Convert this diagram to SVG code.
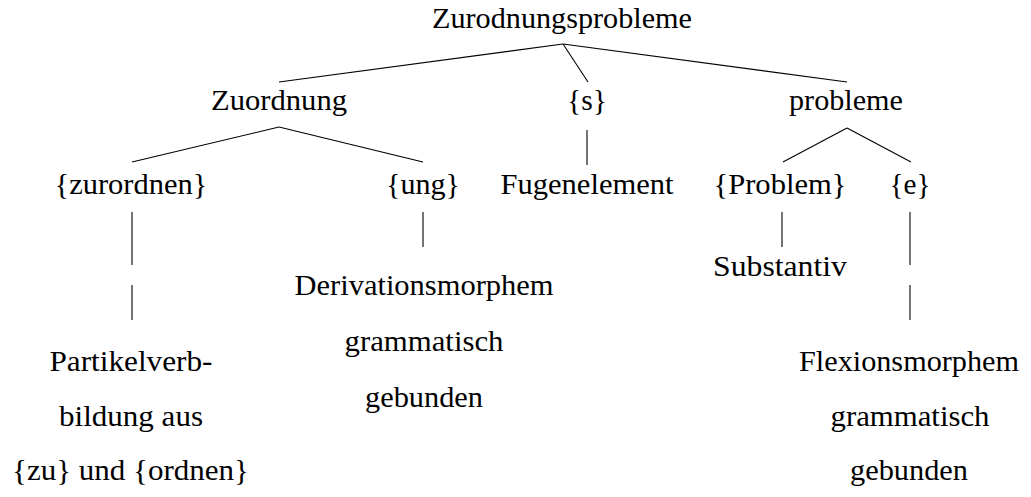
<svg xmlns="http://www.w3.org/2000/svg" width="1031" height="497" viewBox="0 0 1031 497">
  <style>
    .lbl { font-family: Liberation Serif, DejaVu Serif, serif; font-size: 28.5px; fill: #000; text-anchor: middle; }
    .edge { stroke: #000; stroke-width: 1.1; fill: none; }
  </style>
  <rect width="1031" height="497" fill="#fff"/>

  <!-- tree branches -->
  <g id="connectors">
    <line class="edge" x1="563" y1="44" x2="279" y2="82"/>
    <line class="edge" x1="563" y1="44" x2="588" y2="82"/>
    <line class="edge" x1="563" y1="44" x2="847" y2="82"/>
    <line class="edge" x1="279" y1="127" x2="132" y2="162"/>
    <line class="edge" x1="279" y1="127" x2="423" y2="162"/>
    <line class="edge" x1="587" y1="130" x2="587" y2="165"/>
    <line class="edge" x1="847" y1="128" x2="783" y2="162"/>
    <line class="edge" x1="847" y1="128" x2="911" y2="162"/>
    <line class="edge" x1="132" y1="212" x2="132" y2="265"/>
    <line class="edge" x1="132" y1="285" x2="132" y2="320"/>
    <line class="edge" x1="423" y1="212" x2="423" y2="247"/>
    <line class="edge" x1="782" y1="212" x2="782" y2="247"/>
    <line class="edge" x1="910" y1="212" x2="910" y2="265"/>
    <line class="edge" x1="910" y1="285" x2="910" y2="320"/>
  </g>

  <g class="lbl" font-family="Liberation Serif, DejaVu Serif, serif">
    <g id="n-root"><text x="562" y="28" textLength="260" lengthAdjust="spacingAndGlyphs">Zurodnungsprobleme</text></g>

    <g id="n-zuordnung"><text x="279" y="110" textLength="136" lengthAdjust="spacingAndGlyphs">Zuordnung</text></g>
    <g id="n-s"><text x="587" y="110" textLength="40" lengthAdjust="spacingAndGlyphs">{s}</text></g>
    <g id="n-probleme"><text x="846" y="110" textLength="114" lengthAdjust="spacingAndGlyphs">probleme</text></g>

    <g id="n-zurordnen"><text x="131" y="194" textLength="153" lengthAdjust="spacingAndGlyphs">{zurordnen}</text></g>
    <g id="n-ung"><text x="423" y="194" textLength="74" lengthAdjust="spacingAndGlyphs">{ung}</text></g>
    <g id="n-fugenelement"><text x="587" y="194" textLength="173" lengthAdjust="spacingAndGlyphs">Fugenelement</text></g>
    <g id="n-problem"><text x="780" y="194" textLength="133" lengthAdjust="spacingAndGlyphs">{Problem}</text></g>
    <g id="n-e"><text x="910" y="194" textLength="41" lengthAdjust="spacingAndGlyphs">{e}</text></g>

    <g id="n-substantiv"><text x="780" y="276" textLength="134" lengthAdjust="spacingAndGlyphs">Substantiv</text></g>

    <g id="n-derivation">
      <text x="424" y="295" textLength="259" lengthAdjust="spacingAndGlyphs">Derivationsmorphem</text>
      <text x="424" y="351" textLength="159" lengthAdjust="spacingAndGlyphs">grammatisch</text>
      <text x="424" y="407" textLength="118" lengthAdjust="spacingAndGlyphs">gebunden</text>
    </g>

    <g id="n-partikelverb">
      <text x="131" y="371" textLength="163" lengthAdjust="spacingAndGlyphs">Partikelverb-</text>
      <text x="131" y="426" textLength="144" lengthAdjust="spacingAndGlyphs">bildung aus</text>
      <text x="130.5" y="480" textLength="237" lengthAdjust="spacingAndGlyphs">{zu} und {ordnen}</text>
    </g>

    <g id="n-flexion">
      <text x="909" y="371" textLength="220" lengthAdjust="spacingAndGlyphs">Flexionsmorphem</text>
      <text x="910" y="426" textLength="159" lengthAdjust="spacingAndGlyphs">grammatisch</text>
      <text x="909" y="480" textLength="118" lengthAdjust="spacingAndGlyphs">gebunden</text>
    </g>
  </g>
</svg>
